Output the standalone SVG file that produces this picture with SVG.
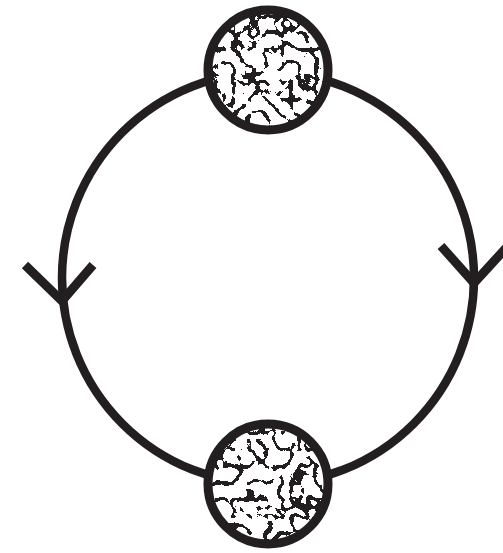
<svg xmlns="http://www.w3.org/2000/svg" width="503" height="553" viewBox="0 0 503 553">
<style>
.line{fill:none;stroke:#231f20;stroke-width:8.5}
.arrow{fill:none;stroke:#231f20;stroke-width:9;stroke-linecap:butt;stroke-linejoin:miter}
.rim{fill:none;stroke:#231f20;stroke-width:9}
.bg{fill:#fff}
</style>
<defs>
<filter id="tex1" x="0" y="0" width="1" height="1" color-interpolation-filters="sRGB">
<feTurbulence type="turbulence" baseFrequency="0.06" numOctaves="2" seed="3" result="t"/>
<feColorMatrix in="t" type="matrix" values="0 0 0 0 0.137  0 0 0 0 0.122  0 0 0 0 0.125  -12 0 0 0 2.5"/>
<feComponentTransfer><feFuncA type="discrete" tableValues="0 1"/></feComponentTransfer>
</filter>
<filter id="tex2" x="0" y="0" width="1" height="1" color-interpolation-filters="sRGB">
<feTurbulence type="turbulence" baseFrequency="0.06" numOctaves="2" seed="11" result="t"/>
<feColorMatrix in="t" type="matrix" values="0 0 0 0 0.137  0 0 0 0 0.122  0 0 0 0 0.125  -12 0 0 0 2.5"/>
<feComponentTransfer><feFuncA type="discrete" tableValues="0 1"/></feComponentTransfer>
</filter>
<clipPath id="c1"><circle cx="268" cy="70" r="57"/></clipPath>
<clipPath id="c2"><circle cx="268" cy="484" r="57"/></clipPath>
</defs>
<g id="connectors">
<circle class="line" cx="268" cy="278" r="206"/>
<polyline class="arrow" points="25,265 62,301 93,265"/>
<polyline class="arrow" points="441,246 474,283 506,248"/>
</g>
<g id="blob-top">
<circle class="bg" cx="268" cy="70" r="60"/>
<rect x="208" y="10" width="120" height="120" filter="url(#tex1)" clip-path="url(#c1)"/>
<circle class="rim" cx="268" cy="70" r="60"/>
</g>
<g id="blob-bottom">
<circle class="bg" cx="268" cy="484" r="60"/>
<rect x="208" y="424" width="120" height="120" filter="url(#tex2)" clip-path="url(#c2)"/>
<circle class="rim" cx="268" cy="484" r="60"/>
</g>
</svg>
